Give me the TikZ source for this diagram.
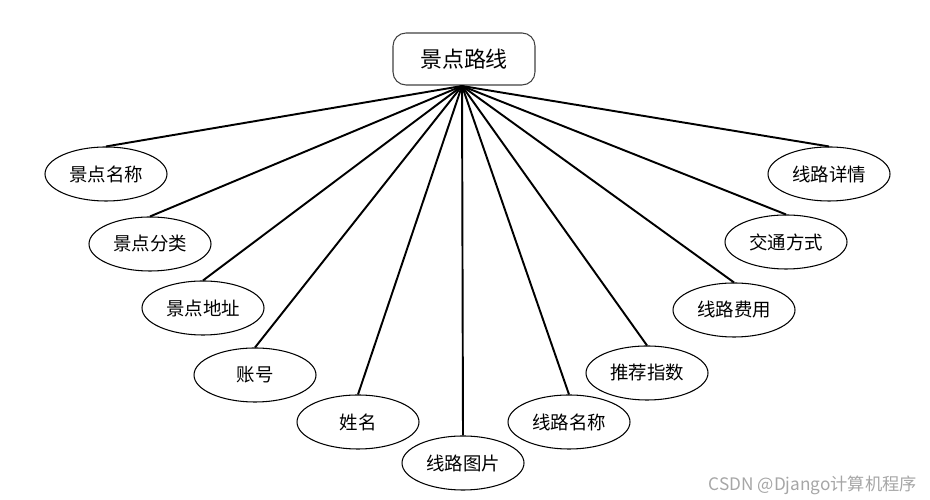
\documentclass[tikz,border=0pt]{standalone}
\usepackage{fontspec}
\usepackage{xcolor}
\usepackage{tikz}
\newfontfamily\cjk{Noto Sans CJK SC}
\tikzset{
  attr/.style={draw, ellipse, minimum width=2.44cm, minimum height=1.08cm, line width=0.6pt, font=\cjk\fontsize{10.5}{12}\selectfont},
  ent/.style={draw=black!75, rounded corners=0.26cm, minimum width=2.84cm, minimum height=1.04cm, line width=0.6pt, font=\cjk\fontsize{12.5}{14}\selectfont},
  link/.style={line width=1.1pt}
}
\usetikzlibrary{shapes.geometric}
\begin{document}
\begin{tikzpicture}
\useasboundingbox (0,0) rectangle (18.6,10);
\node[ent] (route) at (9.28,8.82) {景点路线};
\coordinate (hub) at (9.24,8.28);
\node[attr] (sname) at (2.12,6.52) {景点名称};
\node[attr] (stype) at (3.00,5.12) {景点分类};
\node[attr] (saddr) at (4.06,3.84) {景点地址};
\node[attr] (acct) at (5.10,2.50) {账号};
\node[attr] (uname) at (7.16,1.56) {姓名};
\node[attr] (rpic) at (9.26,0.74) {线路图片};
\node[attr] (rname) at (11.38,1.56) {线路名称};
\node[attr] (rec) at (12.94,2.54) {推荐指数};
\node[attr] (cost) at (14.68,3.80) {线路费用};
\node[attr] (trans) at (15.72,5.16) {交通方式};
\node[attr] (detail) at (16.58,6.52) {线路详情};
% connectors from the entity to each attribute
\draw[link] (hub) -- (sname.north);
\draw[link] (hub) -- (stype.north);
\draw[link] (hub) -- (saddr.north);
\draw[link] (hub) -- (acct.north);
\draw[link] (hub) -- (uname.north);
\draw[link] (hub) -- (rpic.north);
\draw[link] (hub) -- (rname.north);
\draw[link] (hub) -- (rec.north);
\draw[link] (hub) -- (cost.north);
\draw[link] (hub) -- (trans.north);
\draw[link] (hub) -- (detail.north);
\node[font=\cjk\fontsize{9.8}{12}\selectfont, text=black!35, anchor=east] (mark) at (18.46,0.3) {CSDN @Django计算机程序};
\end{tikzpicture}
\end{document}
